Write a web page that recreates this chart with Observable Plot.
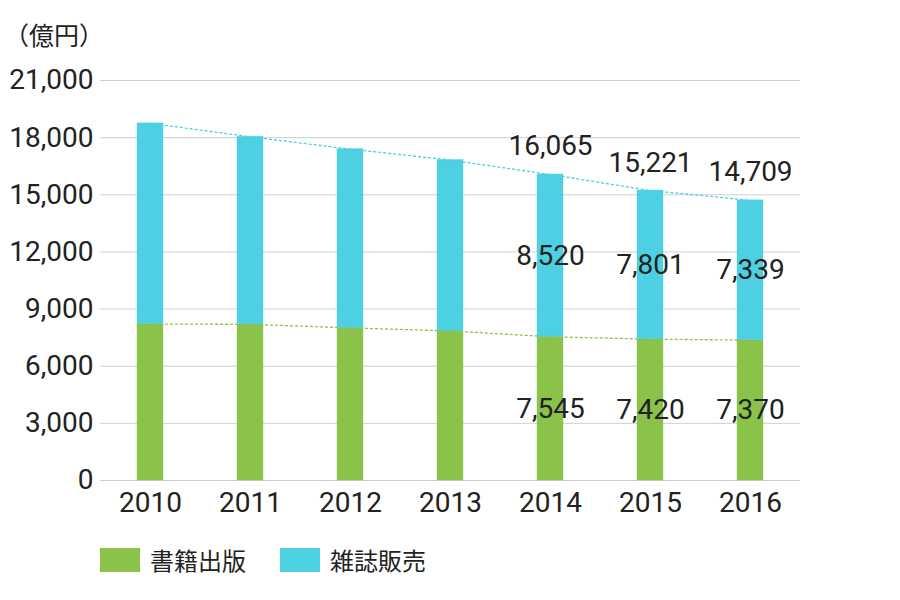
<!DOCTYPE html>
<html>
<head>
<meta charset="utf-8">
<script src="https://cdn.jsdelivr.net/npm/d3@7"></script>
<script src="https://cdn.jsdelivr.net/npm/@observablehq/plot@0.6"></script>
<style>
  body { margin: 0; background: #fff; }
  #wrap { width: 900px; height: 600px; position: relative; color: #222; }
  #unit { height: 60px; box-sizing: border-box; padding: 22px 0 0 4px;
          font: 25px/1 "Noto Sans CJK JP", sans-serif; color: #222; }
  #legend { display: flex; align-items: center; height: 60px; padding-left: 100px;
            font: 24px/1 "Noto Sans CJK JP", sans-serif; color: #222; }
  .item { display: flex; align-items: center; margin-right: 34px; }
  .sw { width: 40px; height: 24px; margin-right: 10px; }
</style>
</head>
<body>
<div id="wrap">
  <div id="unit">（億円）</div>
  <div id="chart"></div>
  <div id="legend"></div>
</div>
<script>
const years = ["2010", "2011", "2012", "2013", "2014", "2015", "2016"];
const seriesNames = ["書籍出版", "雑誌販売"];
const seriesColors = ["#8BC34A", "#4DD0E1"];
const books = [8213, 8199, 8013, 7851, 7545, 7420, 7370];
const magazines = [10535, 9844, 9385, 8972, 8520, 7801, 7339];
const labelYears = ["2014", "2015", "2016"];
const yTicks = [0, 3000, 6000, 9000, 12000, 15000, 18000, 21000];

const fmt = d3.format(",");
const rows = [];
years.forEach((y, i) => {
  rows.push({year: y, series: seriesNames[0], value: books[i]});
  rows.push({year: y, series: seriesNames[1], value: magazines[i]});
});
const totalRows = years.map((y, i) => ({year: y, value: books[i] + magazines[i]}));
const bookRows = years.map((y, i) => ({year: y, value: books[i]}));

const chart = Plot.plot({
  width: 900,
  height: 470,
  marginTop: 20,
  marginBottom: 50,
  marginLeft: 100,
  marginRight: 100,
  style: {fontFamily: "Roboto, sans-serif", fontSize: "28px", fontWeight: 400, color: "#222", background: "#fff"},
  x: {type: "band", domain: years, paddingInner: 0.74, paddingOuter: 0.37, label: null},
  y: {domain: [0, 21000], label: null},
  color: {domain: seriesNames, range: seriesColors},
  marks: [
    Plot.gridY(yTicks, {stroke: "#cfcfcf", strokeOpacity: 1, strokeWidth: 1}),
    Plot.axisY(yTicks, {tickSize: 0, tickPadding: 7, tickFormat: fmt, label: null, fill: "#222"}),
    Plot.axisX({tickSize: 0, tickPadding: 12, label: null, fill: "#222"}),
    Plot.line(totalRows, {x: "year", y: "value", stroke: seriesColors[1], strokeWidth: 1.3, strokeDasharray: "2,3"}),
    Plot.line(bookRows, {x: "year", y: "value", stroke: seriesColors[0], strokeWidth: 1.3, strokeDasharray: "2,3"}),
    Plot.barY(rows, {x: "year", y: "value", fill: "series", stroke: "series", strokeOpacity: 0.4, strokeWidth: 1, order: seriesNames}),
    Plot.text(rows, Plot.stackY({
      x: "year", y: "value", z: "series", order: seriesNames,
      filter: d => labelYears.includes(d.year),
      text: d => fmt(d.value), fill: "#222", fontSize: 28
    })),
    Plot.text(totalRows, {
      x: "year", y: "value", filter: d => labelYears.includes(d.year),
      text: d => fmt(d.value), dy: -28, fill: "#222", fontSize: 28
    })
  ]
});
document.getElementById("chart").appendChild(chart);

const legend = document.getElementById("legend");
seriesNames.forEach((name, i) => {
  const item = document.createElement("div");
  item.className = "item";
  const sw = document.createElement("div");
  sw.className = "sw";
  sw.style.background = seriesColors[i];
  const t = document.createElement("span");
  t.textContent = name;
  item.appendChild(sw);
  item.appendChild(t);
  legend.appendChild(item);
});
</script>
</body>
</html>
